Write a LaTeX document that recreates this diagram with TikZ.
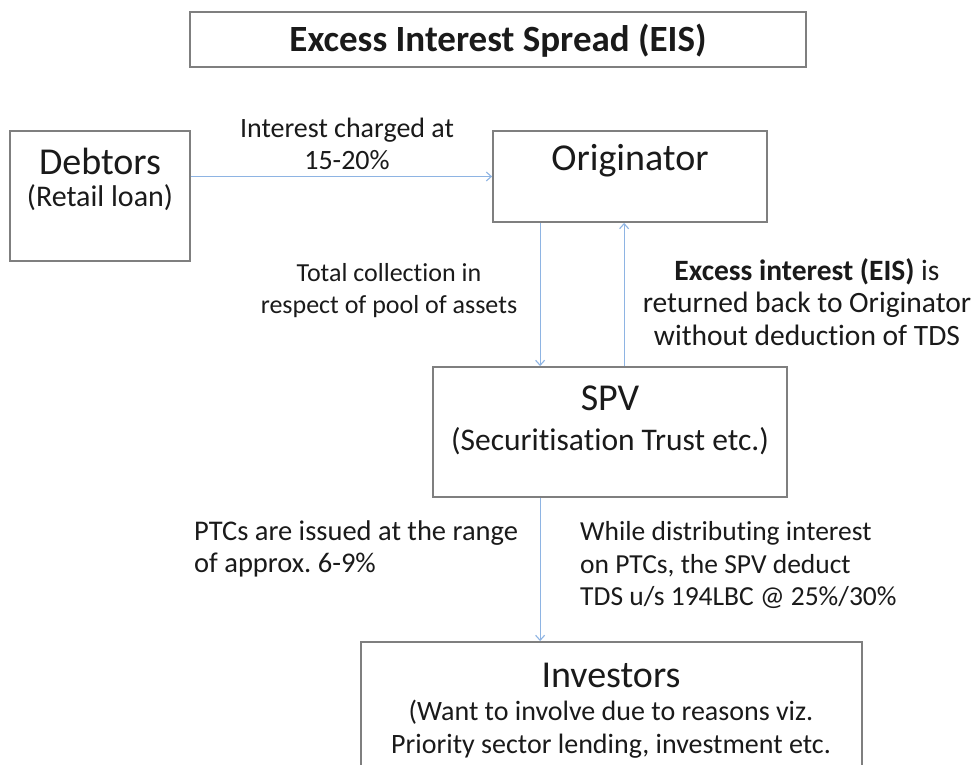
\documentclass[tikz,border=0pt]{standalone}
\usepackage{fontspec}
\setmainfont[Ligatures=NoCommon]{Carlito}
\usetikzlibrary{arrows.meta}
\definecolor{boxgray}{HTML}{7F7F7F}
\definecolor{arrowblue}{HTML}{8EB4E3}
\definecolor{txt}{HTML}{1A1A1A}
\frenchspacing
\begin{document}
\begin{tikzpicture}[x=1pt,y=-1pt,
  box/.style={draw=boxgray, line width=1.8pt, fill=white, inner sep=0pt},
  flow/.style={draw=arrowblue, line width=1.1pt, -{Straight Barb[length=5pt,width=9pt]}},
  big/.style={font=\fontsize{38}{42}\selectfont, text=txt, inner sep=0pt},
  sub/.style={font=\fontsize{30}{34}\selectfont, text=txt, inner sep=0pt, align=center},
  lbl/.style={text=txt, inner sep=0pt}]
\clip (0,0) rectangle (980,765);
\fill[white] (0,0) rectangle (980,765);
% boxes
\node[box, minimum width=616, minimum height=55] (title) at (498,39.5) {};
\node[box, minimum width=180, minimum height=130] (debt) at (100,196) {};
\node[box, minimum width=274, minimum height=91] (orig) at (630,176.5) {};
\node[box, minimum width=354, minimum height=130] (spv) at (610,432) {};
\node[box, minimum width=501, minimum height=140] (inv) at (611.5,712) {};
% box texts
\node[font=\bfseries\fontsize{37}{40}\selectfont, text=txt, inner sep=0pt] (titleT) at (498,41) {Excess Interest Spread (EIS)};
\node[big] (debtT) at (100,161) {Debtors};
\node[sub] (debtS) at (100,198) {(Retail loan)};
\node[big] (origT) at (630,161) {Originator};
\node[big] (spvT) at (610,398) {SPV};
\node[sub, font=\fontsize{31.5}{34}\selectfont] (spvS) at (610,441) {(Securitisation Trust etc.)};
\node[big] (invT) at (611,675) {Investors};
\node[sub, font=\fontsize{28}{33}\selectfont] (invS) at (611,729) {(Want to involve due to reasons viz.\\Priority sector lending, investment etc.};
% connectors
\draw[flow] (debt.east |- orig.west) -- (orig.west);
\draw[flow] ([xshift=48]orig.south west) -- ([xshift=108]spv.north west);
\draw[flow] ([xshift=192]spv.north west) -- ([xshift=132]orig.south west);
\draw[flow] ([xshift=108]spv.south west) -- ([xshift=180]inv.north west);
% labels
\node[lbl, align=center, font=\fontsize{28}{32}\selectfont] (l1) at (347,144) {Interest charged at\\15-20\%};
\node[lbl, align=center, font=\fontsize{26}{32}\selectfont] (l2) at (389,291) {Total collection in\\respect of pool of assets};
\node[lbl, align=center, font=\fontsize{29.5}{32.5}\selectfont] (l3) at (807,302) {\textbf{Excess interest (EIS)} is\\returned back to Originator\\without deduction of TDS};
\node[lbl, align=left, anchor=west, font=\fontsize{28.5}{32}\selectfont] (l4) at (194,549) {PTCs are issued at the range\\of approx. 6-9\%};
\node[lbl, align=left, anchor=west, font=\fontsize{27.5}{32.5}\selectfont] (l5) at (580,565) {While distributing interest\\on PTCs, the SPV deduct\\TDS u/s 194LBC @ 25\%/30\%};
\end{tikzpicture}
\end{document}
